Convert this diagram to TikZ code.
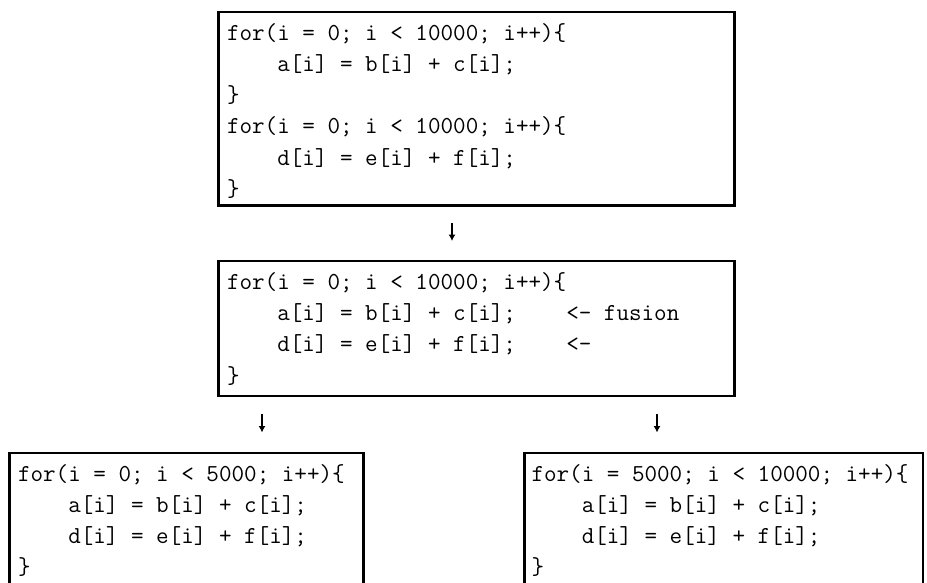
\documentclass[tikz,border=0pt]{standalone}
\usepackage{fontspec}
\usetikzlibrary{arrows.meta}
\begin{document}
\frenchspacing
\begin{tikzpicture}[x=1pt,y=-1pt,
  codebox/.style={draw, line width=2.4pt, anchor=north west, inner sep=0pt, outer sep=0pt},
  code/.style={anchor=base west, inner sep=0pt, outer sep=0pt, font=\ttfamily\fontsize{24.4}{31.3}\selectfont},
  arr/.style={line width=1.5pt, -{Latex[length=6.5pt,width=7pt]}}]
\useasboundingbox (0,0) rectangle (927,582);
% boxes
\node[codebox, minimum width=516pt, minimum height=193.6pt] (b1) at (218.3,11.7) {};
\node[codebox, minimum width=516pt, minimum height=135pt] (b2) at (218.3,261) {};
\node[codebox, minimum width=354pt, minimum height=150pt] (b3) at (9.3,452.7) {};
\node[codebox, minimum width=398.5pt, minimum height=150pt] (b4) at (524.5,452.7) {};
% code
\node[code] (t1) at (227,40) {\begin{tabular}[t]{@{}l@{}}
for(i = 0; i < 10000; i++)\{\\
~~~~a[i] = b[i] + c[i];\\
\}\\
for(i = 0; i < 10000; i++)\{\\
~~~~d[i] = e[i] + f[i];\\
\}
\end{tabular}};
\node[code] (t2) at (227,289.3) {\begin{tabular}[t]{@{}l@{}}
for(i = 0; i < 10000; i++)\{\\
~~~~a[i] = b[i] + c[i];~~~~<- fusion\\
~~~~d[i] = e[i] + f[i];~~~~<-\\
\}
\end{tabular}};
\node[code] (t3) at (18,481) {\begin{tabular}[t]{@{}l@{}}
for(i = 0; i < 5000; i++)\{\\
~~~~a[i] = b[i] + c[i];\\
~~~~d[i] = e[i] + f[i];\\
\}
\end{tabular}};
\node[code] (t4) at (531.5,481) {\begin{tabular}[t]{@{}l@{}}
for(i = 5000; i < 10000; i++)\{\\
~~~~a[i] = b[i] + c[i];\\
~~~~d[i] = e[i] + f[i];\\
\}
\end{tabular}};
% arrows
\coordinate (a1s) at (452,223);
\coordinate (a1e) at (452,241);
\coordinate (a2s) at (262,414);
\coordinate (a2e) at (262,432.5);
\coordinate (a3s) at (657,414);
\coordinate (a3e) at (657,432.5);
\draw[arr] (a1s) -- (a1e);
\draw[arr] (a2s) -- (a2e);
\draw[arr] (a3s) -- (a3e);
\end{tikzpicture}
\end{document}
